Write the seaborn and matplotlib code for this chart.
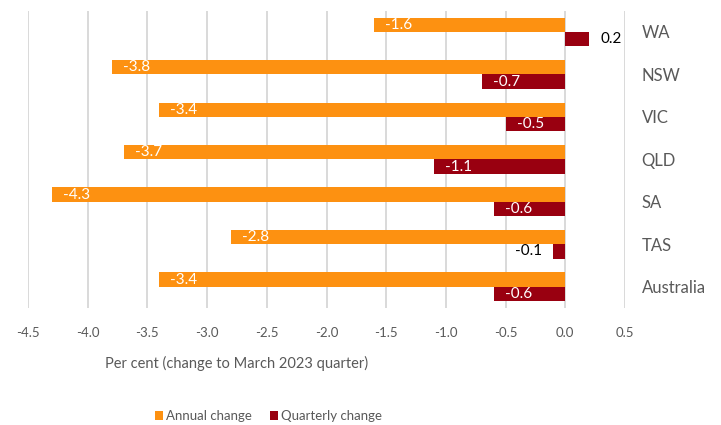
import matplotlib
matplotlib.use("Agg")
import matplotlib.pyplot as plt
import seaborn as sns
import pandas as pd
from matplotlib.patches import Patch

# Dwelling value change by region, March 2023 quarter
regions = ["WA", "NSW", "VIC", "QLD", "SA", "TAS", "Australia"]
annual_change = [-1.6, -3.8, -3.4, -3.7, -4.3, -2.8, -3.4]
quarterly_change = [0.2, -0.7, -0.5, -1.1, -0.6, -0.1, -0.6]
series_names = ["Annual change", "Quarterly change"]
x_ticks = [-4.5, -4.0, -3.5, -3.0, -2.5, -2.0, -1.5, -1.0, -0.5, 0.0, 0.5]

ORANGE = "#FD9111"
DARK_RED = "#990010"
GREY_TEXT = "#595959"
GRID = "#D9D9D9"

df = pd.DataFrame({
    "region": regions * 2,
    "series": [series_names[0]] * len(regions) + [series_names[1]] * len(regions),
    "value": annual_change + quarterly_change,
})

sns.set_theme(style="white")
plt.rcParams["font.family"] = ["Lato", "DejaVu Sans"]

fig = plt.figure(figsize=(7.21, 4.25), dpi=100)
W, H = 721, 425
ax = fig.add_axes([28 / W, 1 - 308 / H, (625 - 28) / W, (308 - 10.7) / H])

sns.barplot(data=df, x="value", y="region", hue="series", order=regions,
            hue_order=series_names, palette=[ORANGE, DARK_RED], saturation=1,
            width=0.675, orient="h", errorbar=None, linewidth=0, ax=ax,
            legend=False)

ax.set_xlim(-4.5, 0.5)
ax.set_xticks(x_ticks)
ax.set_xticklabels([f"{t:.1f}" for t in x_ticks])
ax.xaxis.grid(True, color=GRID, linewidth=1.4)
ax.yaxis.grid(False)
ax.set_axisbelow(True)
for s in ax.spines.values():
    s.set_visible(False)

ax.tick_params(axis="x", length=0, pad=14, labelsize=9.5, labelcolor=GREY_TEXT)
ax.yaxis.tick_right()
ax.tick_params(axis="y", length=0, pad=12, labelsize=12, labelcolor=GREY_TEXT)
ax.set_ylabel("")

ax.set_xlabel("Per cent (change to March 2023 quarter)", fontsize=10.5,
              color=GREY_TEXT)
ax.xaxis.set_label_coords((237 - 28) / 597, -55 / 297)
ax.xaxis.label.set_va("center")

# Value labels: inside the bar end in white, outside in black for short bars
for container, values in zip(ax.containers, [annual_change, quarterly_change]):
    for patch, v in zip(container.patches, values):
        yc = patch.get_y() + patch.get_height() / 2
        inside = abs(v) >= 0.3
        if v < 0:
            if inside:
                off, ha, col = 8, "left", "white"
            else:
                off, ha, col = -8, "right", "black"
        else:
            off, ha, col = 8, "left", "black"
        ax.annotate(f"{v:.1f}", xy=(v, yc), xytext=(off, 0),
                    textcoords="offset points", ha=ha, va="center",
                    fontsize=11, color=col)

handles = [Patch(facecolor=ORANGE, edgecolor="none"),
           Patch(facecolor=DARK_RED, edgecolor="none")]
fig.legend(handles, series_names, loc="center left",
           bbox_to_anchor=(155 / W, 1 - 416 / H), ncol=2, frameon=False,
           fontsize=9.5, labelcolor=GREY_TEXT, handlelength=0.62,
           handleheight=0.62, handletextpad=0.25, columnspacing=1.3,
           borderpad=0, borderaxespad=0)

fig.savefig("out.png", dpi=100)
